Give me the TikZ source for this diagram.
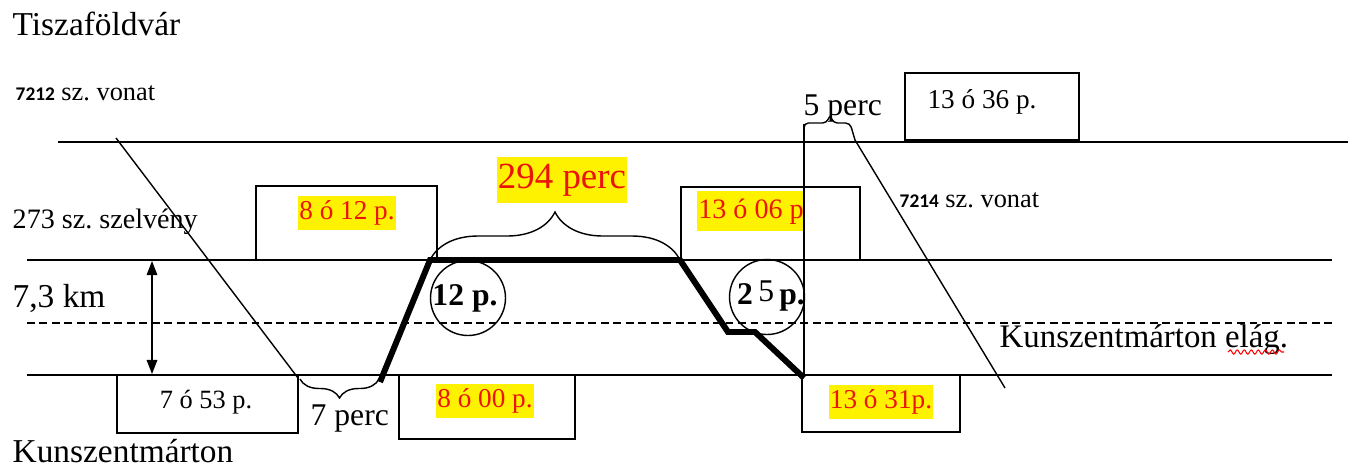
\documentclass[tikz,border=0pt]{standalone}
\usepackage{fontspec}
\setmainfont{Liberation Serif}
\newfontfamily\calibri{Carlito}
\usetikzlibrary{arrows.meta,decorations.pathreplacing,decorations.pathmorphing}
\definecolor{hlred}{RGB}{235,20,10}
\newcommand\fsz[2]{\fontsize{#1}{#2}\selectfont}

\begin{document}
\begin{tikzpicture}[x=0.02cm, y=-0.02cm, line width=0.8pt,
	>={Triangle[width=6pt,length=8pt]},
	lbl/.style={anchor=base west, inner sep=0pt},
	hl/.style={fill=yellow, text=hlred, inner sep=0.5pt},
	boxed/.style={draw, line width=0.9pt, inner sep=0pt},
	ring/.style={draw, circle, minimum size=1.5cm, inner sep=0pt},
	brc/.style={decorate, decoration={brace, amplitude=#1}}]
	\useasboundingbox (0,0) rectangle (1348,468);
	% tracks
	\coordinate (t0) at (58,142);  \coordinate (t1) at (1348,142);
	\coordinate (s0) at (27,260);  \coordinate (s1) at (1332,260);
	\coordinate (d0) at (27,323);  \coordinate (d1) at (1332,323);
	\coordinate (k0) at (27,375);  \coordinate (k1) at (1332,375);
	\draw (t0) -- (t1);
	\draw (s0) -- (s1);
	\draw[line width=0.7pt, dash pattern=on 4.5pt off 2.6pt] (d0) -- (d1);
	\draw (k0) -- (k1);
	% boxes
	\node[boxed, minimum width=3.62cm, minimum height=1.16cm] (b753) at (207.5,404) {};
	\node[boxed, minimum width=3.52cm, minimum height=1.28cm] (b800) at (487,407) {};
	\node[boxed, minimum width=3.62cm, minimum height=1.48cm] (b812) at (346.5,223) {};
	\node[boxed, minimum width=3.58cm, minimum height=1.46cm] (b1306) at (770.5,223.5) {};
	\node[boxed, minimum width=3.16cm, minimum height=1.14cm] (b1331) at (881,403.5) {};
	\node[boxed, minimum width=3.48cm, minimum height=1.34cm] (b1336) at (992,106.5) {};
	\node (t753) at (206,402) {\fsz{15}{18}7 ó 53 p.};
	\node (t1336) at (982,102) {\fsz{15.5}{18}13 ó 36 p.};
	\node[hl] (h812) at (347,213) {\fsz{15.5}{18.6}\strut 8 ó 12 p.};
	\node[hl] (h800) at (485,401) {\fsz{15.5}{18.6}\strut 8 ó 00 p.};
	\node[hl] (h1306) at (751,211) {\fsz{16}{22}\strut 13 ó 06 p};
	\node[hl] (h1331) at (881,402) {\fsz{15.5}{18.6}\strut 13 ó 31p.};
	\node[hl] (h294) at (562,180) {\fsz{21}{25}\strut 294 perc};
	% trains
	\coordinate (a0) at (116,138);  \coordinate (a1) at (298,378);
	\coordinate (c0) at (855,140);  \coordinate (c1) at (1005,388);
	\draw (a0) -- (a1);
	\draw (c0) -- (c1);
	\coordinate (v0) at (804,375);  \coordinate (v1) at (804,124);
	\draw (v0) -- (v1);
	% motor trolley
	\coordinate (p0) at (380,382);  \coordinate (p1) at (430,260);
	\coordinate (p2) at (680,260);  \coordinate (p3) at (728,332);
	\coordinate (p4) at (755,332);  \coordinate (p5) at (804,378);
	\draw[line width=3.4pt] (p0) -- (p1) -- (p2) -- (p3) -- (p4) -- (p5);
	\node[ring] (r12) at (468,298) {};
	\node (t12) at (465,298) {\fsz{18}{21}\bfseries 12 p.};
	\node[ring] (r25) at (767,297) {};
	\node (t25) at (771,296) {\fsz{18}{21}\textbf{2}\,\raisebox{1.5pt}{5}\,\textbf{p.}};
	% braces
	\draw[brc=0.96cm] (p1) -- (p2);
	\draw[brc=0.38cm, decoration={mirror}] (300,379) -- (379,379);
	\draw[rounded corners=2.5pt] (v1) -- (804,123) -- (827,123) -- (830,114) -- (833,123) -- (850,123) -- (c0);
	% distance
	\coordinate (m0) at (152,261);  \coordinate (m1) at (152,374);
	\draw[<->] (m0) -- (m1);
	% labels
	\node[lbl] (tfv) at (12,35) {\fsz{19}{23}Tiszaföldvár};
	\node[lbl] (v7212) at (15,100) {{\calibri\bfseries\fsz{11}{13}7212}\fsz{15}{18} sz.\ vonat};
	\node[lbl] (v7214) at (899,207) {{\calibri\bfseries\fsz{11}{13}7214}\fsz{15}{18} sz.\ vonat};
	\node[lbl] (szelv) at (12,228) {\fsz{16}{19}273 sz.\ szelvény};
	\node[lbl] (km) at (12,307) {\fsz{19}{23}7,3 km};
	\node[lbl] (ksz) at (12,462) {\fsz{19}{23}Kunszentmárton};
	\node[lbl] (elag) at (999,347) {\fsz{18.7}{22}Kunszentmárton elág.};
	\node[lbl] (p5perc) at (803,115) {\fsz{18}{22}5 perc};
	\node[lbl] (p7perc) at (310,425) {\fsz{18}{22}7 perc};
	\draw[red, line width=0.6pt, decorate, decoration={snake, segment length=4pt, amplitude=1.2pt}] (1228,352) -- (1284,352);
\end{tikzpicture}
\end{document}
